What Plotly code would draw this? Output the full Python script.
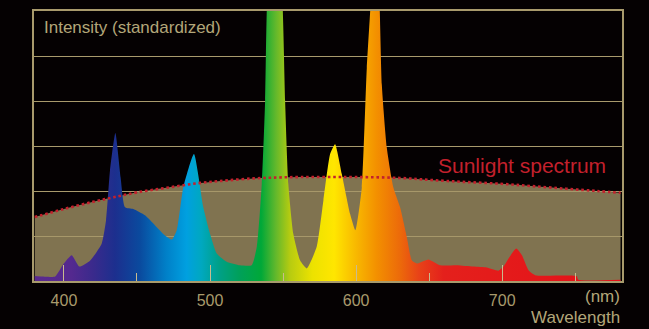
import plotly.graph_objects as go

# wavelength (nm) and standardized intensity of the LED spectrum
led_nm = [380, 385, 394, 399.5, 405.3, 410.5, 417.8, 425.8, 428.8, 431.5, 435.2,
          438.8, 441.8, 447.5, 455.5, 462.3, 469.2, 473.8, 477.2, 481.7, 489,
          495.4, 500, 504.6, 511.4, 520.5, 528.5, 532, 535.4, 537.7, 539.0, 544,
          549.6, 551.4, 553.6, 557, 561.6, 566.2, 573, 577.6, 582.2, 585.6,
          590.2, 595.9, 599.5, 603.9, 607.3, 610, 613, 616, 617.6, 621, 625.5,
          630.1, 634.7, 638.1, 641.6, 649.5, 657.5, 669, 680.3, 689.5, 697.5,
          700.9, 704.3, 709.6, 713.5, 718, 722.6, 751, 752, 781]
led_val = [0.11, 0.10, 0.10, 0.37, 0.57, 0.32, 0.45, 0.83, 1.35, 2.45, 3.29,
           2.30, 1.64, 1.60, 1.46, 1.24, 1.01, 0.92, 1.13, 2.08, 2.82,
           1.64, 1.05, 0.61, 0.43, 0.35, 0.35, 0.76, 2.15, 4.0, 6.2, 9.0,
           6.2, 4.0, 2.15, 1.05, 0.46, 0.28, 0.76, 1.79, 2.82, 3.04,
           2.38, 1.49, 1.13, 2.08, 4.73, 6.2, 8.0, 6.2, 4.36, 2.96, 2.08,
           1.64, 0.98, 0.46, 0.39, 0.48, 0.35, 0.35, 0.32, 0.30, 0.23,
           0.32, 0.50, 0.72, 0.57, 0.24, 0.13, 0.11, 0.03, 0.03]

# sunlight spectrum
sun_nm = [380, 400, 420, 434, 450, 470, 491, 510, 530, 546, 562, 580, 600,
          630, 653, 675, 699, 720, 744, 765, 781]
sun_val = [1.42, 1.60, 1.76, 1.86, 1.97, 2.07, 2.17, 2.23, 2.28, 2.30, 2.31,
           2.31, 2.31, 2.29, 2.24, 2.20, 2.16, 2.11, 2.05, 2.00, 1.96]

# colour of the light at each wavelength
grad_nm = [380, 405, 420, 435, 452, 470, 484, 494, 506, 520, 535, 545, 555,
           570, 585, 600, 614, 630, 643, 660, 781]
grad_col = ['#5b2a8e', '#54298f', '#3a2a8c', '#1c2f8e', '#0a4a9e', '#0080c8',
            '#00a0e0', '#00a8c0', '#00a088', '#00a05a', '#00a838', '#62b82c',
            '#b8cc10', '#ece200', '#ffe600', '#f8b800', '#f39000', '#ec6a0a',
            '#e84218', '#e4201c', '#e41018']

x_lo, x_hi = 379.5, 782
span = grad_nm[-1] - grad_nm[0]
colorscale = [[(w - grad_nm[0]) / span, c] for w, c in zip(grad_nm, grad_col)]

beige = '#a89a6c'
txt = '#b3a679'
red = '#c3202c'
font = 'Liberation Sans, Arial, sans-serif'

fig = go.Figure()

# sunlight area (semi transparent so the grid shows through)
fig.add_trace(go.Scatter(
    x=sun_nm, y=sun_val, mode='lines', fill='tozeroy',
    fillcolor='rgba(167,151,105,0.76)', line=dict(width=0, shape='spline'),
    hoverinfo='skip', showlegend=False))

# LED spectrum with rainbow fill
fig.add_trace(go.Scatter(
    x=led_nm, y=led_val, mode='lines', fill='tozeroy',
    fillgradient=dict(type='horizontal', colorscale=colorscale,
                      start=grad_nm[0], stop=grad_nm[-1]),
    line=dict(width=0, shape='spline', smoothing=0.5),
    showlegend=False))

# sunlight dotted outline
fig.add_trace(go.Scatter(
    x=sun_nm, y=sun_val, mode='lines',
    line=dict(color=red, width=2.6, dash='2.6px,2.8px', shape='spline'),
    showlegend=False))

fig.add_annotation(x=0.013, y=0.9375, xref='paper', yref='paper',
                   text='Intensity (standardized)', showarrow=False,
                   xanchor='left', yanchor='middle',
                   font=dict(family=font, size=17, color=txt))
fig.add_annotation(x=713.5, y=2.56, text='Sunlight spectrum', showarrow=False,
                   xanchor='center', yanchor='middle',
                   font=dict(family=font, size=21, color=red))
fig.add_annotation(x=1.0, y=-0.058, xref='paper', yref='paper', text='(nm)',
                   showarrow=False, xanchor='right', yanchor='middle',
                   font=dict(family=font, size=17, color=txt))
fig.add_annotation(x=1.0, y=-0.136, xref='paper', yref='paper', text='Wavelength',
                   showarrow=False, xanchor='right', yanchor='middle',
                   font=dict(family=font, size=17, color=txt))

fig.update_layout(
    width=649, height=329,
    margin=dict(l=34, r=27, t=9, b=48),
    paper_bgcolor='#050102', plot_bgcolor='#050102',
    xaxis=dict(range=[x_lo, x_hi], tick0=0, dtick=100, ticks='inside',
               ticklen=16, tickcolor='#c9bb8e', tickwidth=1,
               minor=dict(ticks='inside', ticklen=8, dtick=50,
                          tickcolor='#c9bb8e', tickwidth=1),
               showgrid=False, zeroline=False, ticklabelstandoff=4,
               showline=True, mirror=True, linecolor=beige, linewidth=1.5,
               tickfont=dict(family=font, size=16, color=beige)),
    yaxis=dict(range=[0, 6], dtick=1, showticklabels=False, ticks='',
               showgrid=True, gridcolor=beige, gridwidth=1.3, zeroline=False,
               showline=True, mirror=True, linecolor=beige, linewidth=1.5),
)

# page has a default 8px body margin; drop it so the figure fills the window
fig.write_html('out.html', config={'displayModeBar': False},
               post_script="document.body.style.margin='0px';"
                           "document.body.style.background='#050102';")
